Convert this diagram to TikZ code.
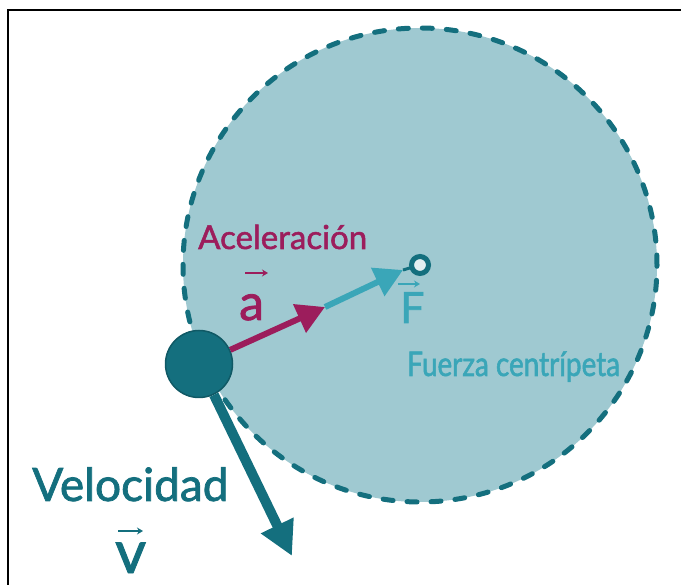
\documentclass[tikz,border=0pt]{standalone}
\usepackage{fontspec}
\setmainfont{Lato}[FakeBold=1.6]
\newfontfamily\narrowfont{Lato}[FakeBold=1.6,FakeStretch=0.82]
\usetikzlibrary{arrows.meta}
\definecolor{orbitfill}{HTML}{9FC9D1}
\definecolor{tealdark}{HTML}{146F7E}
\definecolor{accelred}{HTML}{9C1D5C}
\definecolor{forcecyan}{HTML}{3AA6B8}
\tikzset{tagtext/.style={anchor=base west,inner sep=0pt},
  vecarrow/.style={-{Stealth[length=6pt,width=7pt]},line width=1.5pt}}

\begin{document}
\begin{tikzpicture}[x=1pt,y=-1pt,>={Triangle[length=28pt,width=30pt]}]
\useasboundingbox (0,0) rectangle (681,585);
\draw[line width=2pt] (8,585) -- (8,10) -- (681,10);
%
\draw (420,265) node[circle,minimum size=474pt,fill=orbitfill,draw=tealdark,
  line width=5pt,dash pattern=on 10pt off 14pt,line cap=round] (orbit) {};
\draw (orbit.center) ++ (-221,99) node[circle,minimum size=67pt,fill=tealdark,
  draw=tealdark!80!black,line width=1.5pt] (mass) {};
\path (mass) ++ (126,-57) coordinate (aTip);
\path (orbit.center) ++ (-17,5) coordinate (fTip);
\path (mass) ++ (93,192) coordinate (vTip);
%
\path[draw,->,accelred,line width=6pt] (mass) -- (aTip);
\path[draw,->,forcecyan,line width=6pt] (aTip) -- (fTip);
\path[draw,tealdark,line width=3pt] (fTip) -- (orbit.center);
\draw (orbit.center) node[circle,minimum size=17pt,inner sep=0pt,
  fill=orbitfill!30!white,draw=tealdark,line width=5pt] (center) {};
\path[draw,->,tealdark,line width=10pt,>={Triangle[length=34pt,width=34pt]}]
  (mass) -- (vTip);
%
\draw (198,249) node[tagtext,text=accelred,font=\fontsize{33}{33}\selectfont]
  (accelLabel) {Aceleración};
\draw (239,320) node[tagtext,text=accelred,font=\fontsize{50}{50}\selectfont]
  (aLetter) {a};
\path[draw,vecarrow,accelred] (aLetter.base west) ++ (6,-47) -- ++(23,0);
%
\draw (400,323) node[tagtext,text=forcecyan,font=\fontsize{43}{43}\selectfont]
  (fLetter) {F};
\path[draw,vecarrow,forcecyan] (fLetter.base west) ++ (-2,-39) -- ++(22,0);
\draw (407,376) node[tagtext,text=forcecyan,font=\narrowfont\fontsize{34}{34}\selectfont]
  (forceLabel) {Fuerza centrípeta};
%
\draw (32,501) node[tagtext,text=tealdark,font=\fontsize{46}{46}\selectfont]
  (velLabel) {Velocidad};
\draw (115,573) node[tagtext,text=tealdark,font=\fontsize{60}{60}\selectfont]
  (vLetter) {v};
\path[draw,vecarrow,tealdark] (vLetter.base west) ++ (3,-42) -- ++(25,0);
\end{tikzpicture}
\end{document}
